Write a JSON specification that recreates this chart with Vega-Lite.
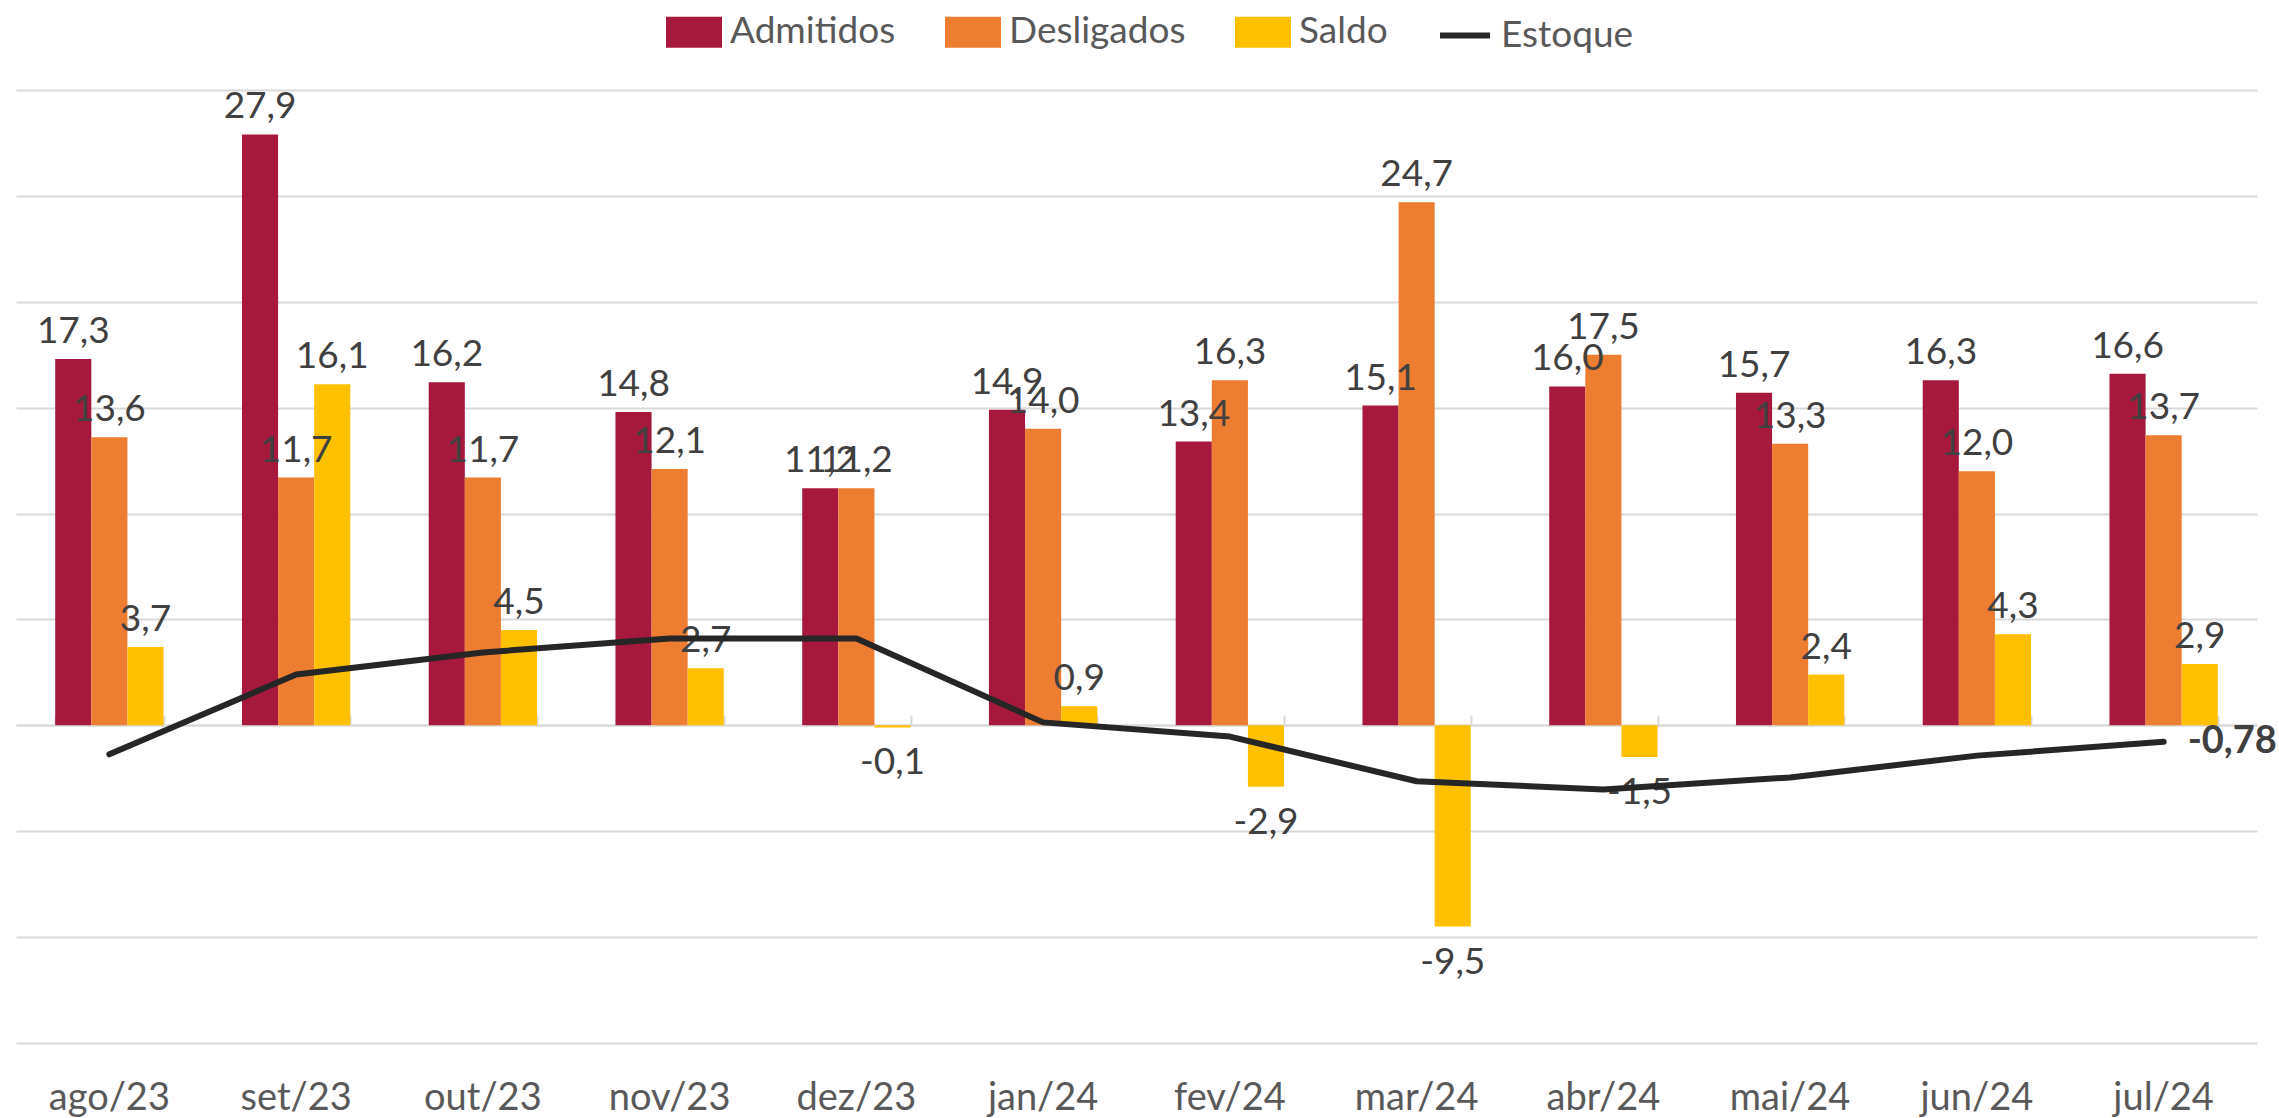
{
  "$schema": "https://vega.github.io/schema/vega-lite/v6.json",
  "width": 2241,
  "height": 953,
  "autosize": {"type": "none"},
  "padding": {"left": 16, "top": 90, "right": 22, "bottom": 75},
  "background": "white",
  "config": {
    "font": "Lato",
    "view": {"stroke": null},
    "locale": {"number": {"decimal": ",", "thousands": ".", "grouping": [3], "currency": ["R$", ""], "minus": "-"}}
  },
  "datasets": {
    "barras": [
      {"mes": "ago/23", "serie": "Admitidos", "valor": 17.3},
      {"mes": "ago/23", "serie": "Desligados", "valor": 13.6},
      {"mes": "ago/23", "serie": "Saldo", "valor": 3.7},
      {"mes": "set/23", "serie": "Admitidos", "valor": 27.9},
      {"mes": "set/23", "serie": "Desligados", "valor": 11.7},
      {"mes": "set/23", "serie": "Saldo", "valor": 16.1},
      {"mes": "out/23", "serie": "Admitidos", "valor": 16.2},
      {"mes": "out/23", "serie": "Desligados", "valor": 11.7},
      {"mes": "out/23", "serie": "Saldo", "valor": 4.5},
      {"mes": "nov/23", "serie": "Admitidos", "valor": 14.8},
      {"mes": "nov/23", "serie": "Desligados", "valor": 12.1},
      {"mes": "nov/23", "serie": "Saldo", "valor": 2.7},
      {"mes": "dez/23", "serie": "Admitidos", "valor": 11.2},
      {"mes": "dez/23", "serie": "Desligados", "valor": 11.2},
      {"mes": "dez/23", "serie": "Saldo", "valor": -0.1},
      {"mes": "jan/24", "serie": "Admitidos", "valor": 14.9},
      {"mes": "jan/24", "serie": "Desligados", "valor": 14.0},
      {"mes": "jan/24", "serie": "Saldo", "valor": 0.9},
      {"mes": "fev/24", "serie": "Admitidos", "valor": 13.4},
      {"mes": "fev/24", "serie": "Desligados", "valor": 16.3},
      {"mes": "fev/24", "serie": "Saldo", "valor": -2.9},
      {"mes": "mar/24", "serie": "Admitidos", "valor": 15.1},
      {"mes": "mar/24", "serie": "Desligados", "valor": 24.7},
      {"mes": "mar/24", "serie": "Saldo", "valor": -9.5},
      {"mes": "abr/24", "serie": "Admitidos", "valor": 16.0},
      {"mes": "abr/24", "serie": "Desligados", "valor": 17.5},
      {"mes": "abr/24", "serie": "Saldo", "valor": -1.5},
      {"mes": "mai/24", "serie": "Admitidos", "valor": 15.7},
      {"mes": "mai/24", "serie": "Desligados", "valor": 13.3},
      {"mes": "mai/24", "serie": "Saldo", "valor": 2.4},
      {"mes": "jun/24", "serie": "Admitidos", "valor": 16.3},
      {"mes": "jun/24", "serie": "Desligados", "valor": 12.0},
      {"mes": "jun/24", "serie": "Saldo", "valor": 4.3},
      {"mes": "jul/24", "serie": "Admitidos", "valor": 16.6},
      {"mes": "jul/24", "serie": "Desligados", "valor": 13.7},
      {"mes": "jul/24", "serie": "Saldo", "valor": 2.9}
    ],
    "estoque": [
      {"mes": "ago/23", "estoque": -1.37},
      {"mes": "set/23", "estoque": 2.4},
      {"mes": "out/23", "estoque": 3.44},
      {"mes": "nov/23", "estoque": 4.1},
      {"mes": "dez/23", "estoque": 4.1},
      {"mes": "jan/24", "estoque": 0.14},
      {"mes": "fev/24", "estoque": -0.53},
      {"mes": "mar/24", "estoque": -2.64},
      {"mes": "abr/24", "estoque": -3.03},
      {"mes": "mai/24", "estoque": -2.46},
      {"mes": "jun/24", "estoque": -1.43},
      {"mes": "jul/24", "estoque": -0.78}
    ]
  },
  "layer": [
    {
      "data": {"name": "barras"},
      "mark": {"type": "bar"},
      "encoding": {
        "x": {
          "field": "mes", "type": "nominal",
          "sort": ["ago/23","set/23","out/23","nov/23","dez/23","jan/24","fev/24","mar/24","abr/24","mai/24","jun/24","jul/24"],
          "scale": {"paddingInner": 0.42, "paddingOuter": 0.21},
          "axis": {"orient": "bottom", "title": null, "domain": false, "ticks": false, "labelAngle": 0, "labelFont": "Lato", "labelFontSize": 38, "labelColor": "#595959", "labelPadding": 36}
        },
        "xOffset": {"field": "serie", "type": "nominal", "sort": ["Admitidos","Desligados","Saldo"], "scale": {"paddingInner": 0, "paddingOuter": 0}},
        "y": {
          "field": "valor", "type": "quantitative",
          "scale": {"domain": [-15, 30], "nice": false, "zero": true},
          "axis": {"title": null, "labels": false, "ticks": false, "domain": false, "grid": true, "gridColor": "#D9D9D9", "gridWidth": 2, "values": [-15,-10,-5,0,5,10,15,20,25,30]}
        },
        "color": {
          "field": "serie", "type": "nominal",
          "scale": {"domain": ["Admitidos","Desligados","Saldo","Estoque"], "range": ["#A6193C","#ED7D31","#FFC000","#262626"]},
          "legend": {
            "title": null, "orient": "none", "direction": "horizontal",
            "legendX": 650, "legendY": -86,
            "labelFont": "Lato", "labelFontSize": 37, "labelColor": "#595959", "labelLimit": 0,
            "symbolSize": 2500, "labelOffset": 8, "columnPadding": 40,
            "symbolType": "M-1,-0.5H1V0.5H-1Z",
            "encode": {
              "symbols": {
                "update": {
                  "shape": {"signal": "datum.value === 'Estoque' ? 'stroke' : 'M-1,-0.5H1V0.5H-1Z'"},
                  "fill": {"signal": "datum.value === 'Estoque' ? 'transparent' : scale('color', datum.value)"},
                  "stroke": {"signal": "datum.value === 'Estoque' ? scale('color', datum.value) : 'transparent'"},
                  "strokeWidth": {"value": 6},
                  "opacity": {"value": 1}
                }
              }
            }
          }
        }
      }
    },
    {
      "data": {"name": "barras"},
      "transform": [{"filter": "datum.valor >= 0"}],
      "mark": {"type": "text", "fontSize": 37, "color": "#404040", "font": "Lato", "baseline": "alphabetic", "dy": -16},
      "encoding": {
        "x": {"field": "mes", "type": "nominal", "axis": null, "sort": ["ago/23","set/23","out/23","nov/23","dez/23","jan/24","fev/24","mar/24","abr/24","mai/24","jun/24","jul/24"]},
        "xOffset": {"field": "serie", "type": "nominal", "sort": ["Admitidos","Desligados","Saldo"]},
        "y": {"field": "valor", "type": "quantitative"},
        "text": {"field": "valor", "type": "quantitative", "format": ".1f"}
      }
    },
    {
      "data": {"name": "barras"},
      "transform": [{"filter": "datum.valor < 0"}],
      "mark": {"type": "text", "fontSize": 37, "color": "#404040", "font": "Lato", "baseline": "top", "dy": 18},
      "encoding": {
        "x": {"field": "mes", "type": "nominal", "axis": null, "sort": ["ago/23","set/23","out/23","nov/23","dez/23","jan/24","fev/24","mar/24","abr/24","mai/24","jun/24","jul/24"]},
        "xOffset": {"field": "serie", "type": "nominal", "sort": ["Admitidos","Desligados","Saldo"]},
        "y": {"field": "valor", "type": "quantitative"},
        "text": {"field": "valor", "type": "quantitative", "format": ".1f"}
      }
    },
    {
      "data": {"name": "estoque"},
      "mark": {"type": "line", "strokeWidth": 6, "strokeCap": "round", "strokeJoin": "round"},
      "encoding": {
        "x": {
          "field": "mes", "type": "nominal",
          "sort": ["ago/23","set/23","out/23","nov/23","dez/23","jan/24","fev/24","mar/24","abr/24","mai/24","jun/24","jul/24"],
          "axis": {"orient": "top", "offset": -635, "title": null, "labels": false, "domain": true, "domainColor": "#D9D9D9", "domainWidth": 2, "ticks": true, "tickColor": "#D9D9D9", "tickWidth": 2, "tickSize": 10, "tickBand": "extent", "grid": false}
        },
        "y": {"field": "estoque", "type": "quantitative"},
        "color": {"datum": "Estoque"}
      }
    },
    {
      "data": {"name": "estoque"},
      "transform": [{"filter": "datum.mes === 'jul/24'"}],
      "mark": {"type": "text", "fontSize": 38, "fontWeight": "bold", "color": "#404040", "font": "Lato", "align": "left", "baseline": "middle", "dx": 24},
      "encoding": {
        "x": {"field": "mes", "type": "nominal", "axis": null, "sort": ["ago/23","set/23","out/23","nov/23","dez/23","jan/24","fev/24","mar/24","abr/24","mai/24","jun/24","jul/24"]},
        "y": {"field": "estoque", "type": "quantitative"},
        "text": {"field": "estoque", "type": "quantitative", "format": ".2f"}
      }
    }
  ],
  "resolve": {"axis": {"x": "independent"}}
}
